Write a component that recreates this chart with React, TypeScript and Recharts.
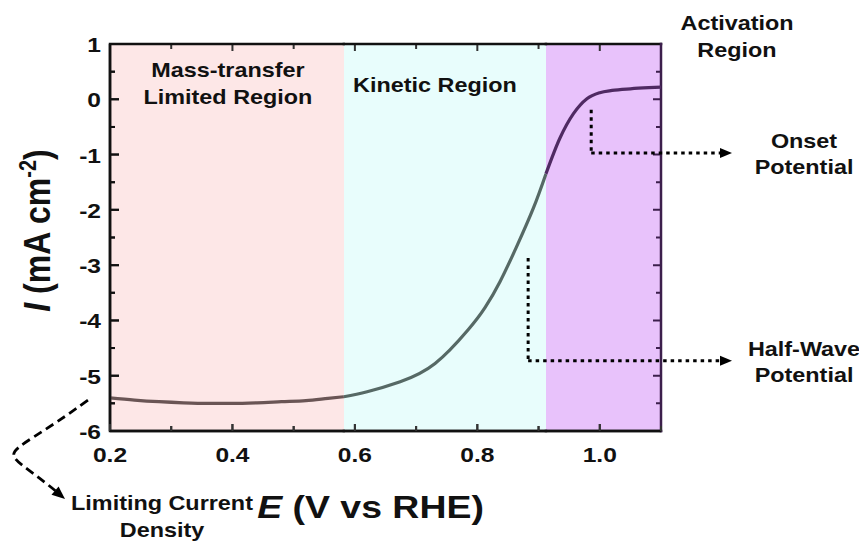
import React from 'react'
import { ComposedChart, Line, XAxis, YAxis, CartesianGrid, ReferenceArea, ReferenceLine } from 'recharts'

// LSV curve: E (V vs RHE) and current density (mA cm^-2)
const potential = [
  0.2, 0.24, 0.28, 0.32, 0.36, 0.4, 0.44, 0.48, 0.52, 0.556, 0.582, 0.62, 0.674, 0.731, 0.785, 0.8125,
  0.837, 0.864, 0.8915, 0.912, 0.935, 0.957, 0.979, 1.0, 1.02, 1.05, 1.08, 1.1,
]
const current = [
  -5.4, -5.44, -5.47, -5.49, -5.5, -5.5, -5.49, -5.47, -5.45, -5.41, -5.38, -5.29, -5.11, -4.78, -4.17,
  -3.77, -3.3, -2.67, -1.97, -1.35, -0.7, -0.26, 0.01, 0.12, 0.16, 0.19, 0.21, 0.22,
]

// region borders on the E axis and their fills
const regionEdges = [0.2, 0.582, 0.912, 1.1]
const regionFills = ['#fde7e7', '#e8fdfc', '#e8c2fb']
const xDomain = [0.2, 1.1]
const yDomain = [-6, 1]

const xTicks = [0.2, 0.3, 0.4, 0.5, 0.6, 0.7, 0.8, 0.9, 1.0, 1.1]
const xLabels = [0.2, 0.4, 0.6, 0.8, 1.0]
const yTicks = [-6, -5.5, -5, -4.5, -4, -3.5, -3, -2.5, -2, -1.5, -1, -0.5, 0, 0.5, 1]
const yLabels = [-6, -5, -4, -3, -2, -1, 0, 1]

// annotation anchors (E, I)
const onsetPoint = { x: 0.986, top: -0.19, y: -0.97 }
const halfWavePoint = { x: 0.883, top: -2.87, y: -4.73 }
const arrowTipE = 1.216
const limitingStart = { x: 0.164, y: -5.44 }
const limitingEnd = { x: 0.1265, y: -7.23 }

const rows = potential.map((E, i) => ({
  E,
  mass: E <= regionEdges[1] ? current[i] : null,
  kinetic: E >= regionEdges[1] && E <= regionEdges[2] ? current[i] : null,
  activation: E >= regionEdges[2] ? current[i] : null,
}))

const FONT = "'Liberation Sans', Arial, sans-serif"
const SX = 1.17
const INK = '#111'
const RIGHT_INK = '#3c1f4c'

function StretchText({ x, y, size = 20, anchor = 'middle', children }: any) {
  return (
    <text
      transform={`translate(${x},${y}) scale(${SX},1)`}
      textAnchor={anchor}
      fontSize={size}
      fontWeight="bold"
      fontFamily={FONT}
      fill={INK}
    >
      {children}
    </text>
  )
}

// ticks point inward; tickSize/tickMargin 0 puts x,y right on the axis line
function BottomTick(props: any) {
  const { x, y, payload } = props
  const major = xLabels.includes(payload.value)
  return (
    <g>
      <line x1={x} y1={y} x2={x} y2={y - (major ? 7 : 5)} stroke="#333" strokeWidth={2} />
      {major && (
        <StretchText x={x} y={y + 31} size={21}>
          {payload.value.toFixed(1)}
        </StretchText>
      )}
    </g>
  )
}

function TopTick(props: any) {
  const { x, y, payload } = props
  const major = xLabels.includes(payload.value)
  return <line x1={x} y1={y} x2={x} y2={y + (major ? 7 : 5)} stroke="#333" strokeWidth={2} />
}

function LeftTick(props: any) {
  const { x, y, payload } = props
  const major = yLabels.includes(payload.value)
  return (
    <g>
      <line x1={x} y1={y} x2={x + (major ? 9 : 5)} y2={y} stroke={INK} strokeWidth={2} />
      {major && (
        <StretchText x={x - 9} y={y + 8} size={21} anchor="end">
          {String(payload.value)}
        </StretchText>
      )}
    </g>
  )
}

function RightTick(props: any) {
  const { x, y, payload } = props
  const major = yLabels.includes(payload.value)
  return <line x1={x} y1={y} x2={x - (major ? 8 : 5)} y2={y} stroke={RIGHT_INK} strokeWidth={2} />
}

// frame edges and inward ticks over one region's span (region box comes from the scales)
function FramePart({ vb, e0, e1, left, right }: any) {
  const top = vb.y
  const bottom = vb.y + vb.height
  const xl = vb.x
  const xr = vb.x + vb.width
  const px = (v: number) => xl + ((v - e0) / (e1 - e0)) * vb.width
  const py = (v: number) => top + ((yDomain[1] - v) / (yDomain[1] - yDomain[0])) * vb.height
  let xt = ''
  xTicks
    .filter((v) => v >= e0 && (v < e1 || right))
    .forEach((v) => {
      const len = xLabels.includes(v) ? 7 : 5
      const x = px(v)
      xt += `M${x},${bottom}V${bottom - len}M${x},${top}V${top + len}`
    })
  let lt = ''
  let rt = ''
  yTicks.forEach((v) => {
    const y = py(v)
    const major = yLabels.includes(v)
    if (left) lt += `M${xl},${y}H${xl + (major ? 9 : 5)}`
    if (right) rt += `M${xr},${y}H${xr - (major ? 8 : 5)}`
  })
  const edges = `M${xl},${top}H${xr}M${xl},${bottom}H${xr}` + (left ? `M${xl},${top}V${bottom}` : '')
  return (
    <g>
      {xt && <path d={xt} stroke="#333" strokeWidth={2} fill="none" />}
      {lt && <path d={lt} stroke={INK} strokeWidth={2} fill="none" />}
      {rt && <path d={rt} stroke={RIGHT_INK} strokeWidth={2} fill="none" />}
      <path d={edges} stroke={INK} strokeWidth={2.5} strokeLinecap="square" fill="none" />
      {right && <path d={`M${xr},${top}V${bottom}`} stroke={RIGHT_INK} strokeWidth={2.5} strokeLinecap="square" fill="none" />}
    </g>
  )
}

const regionLabel = (lines: string[], dx: number, dy: number, e0: number, e1: number, left = false) => (p: any) => {
  const vb = p.viewBox
  const cx = vb.x + vb.width / 2 + dx
  return (
    <g>
      <FramePart vb={vb} e0={e0} e1={e1} left={left} right={false} />
      {lines.map((t, i) => (
        <StretchText key={t} x={cx} y={vb.y + dy + i * 27}>
          {t}
        </StretchText>
      ))}
    </g>
  )
}

const activationLabel = (p: any) => {
  const vb = p.viewBox
  const cx = vb.x + vb.width + 76
  return (
    <g>
      <FramePart vb={vb} e0={regionEdges[2]} e1={regionEdges[3]} left={false} right />
      <StretchText x={cx} y={vb.y - 14}>Activation</StretchText>
      <StretchText x={cx} y={vb.y + 13}>Region</StretchText>
    </g>
  )
}

const dotted = { stroke: '#000', strokeWidth: 3, strokeDasharray: '3.5 4' }

function DottedShape(props: any) {
  const { x1, y1, x2, y2 } = props
  return <line x1={x1} y1={y1} x2={x2} y2={y2} {...dotted} />
}

const arrowShape = (lines: string[]) => (props: any) => {
  const { x1, y1, x2, y2 } = props
  return (
    <g>
      <line x1={x1} y1={y1} x2={x2 - 10} y2={y2} {...dotted} />
      <polygon points={`${x2},${y2} ${x2 - 12},${y2 - 5} ${x2 - 12},${y2 + 5}`} fill="#000" />
      {lines.map((t, i) => (
        <StretchText key={t} x={x2 + 72} y={y2 - 5 + i * 26}>
          {t}
        </StretchText>
      ))}
    </g>
  )
}

function CurlyShape(props: any) {
  const { x1, y1, x2, y2 } = props
  const d = `M${x1},${y1} C${x1 - 95},${y1 + 70} ${x2 - 70},${y2 - 60} ${x2 - 4},${y2 - 3.5}`
  return (
    <g>
      <path d={d} fill="none" stroke="#000" strokeWidth={2.8} strokeDasharray="9 5" />
      <polygon points="0,0 -13,-5.5 -13,5.5" transform={`translate(${x2},${y2}) rotate(40)`} fill="#000" />
      <StretchText x={x2 + 97} y={y2 + 11}>Limiting Current</StretchText>
      <StretchText x={x2 + 97} y={y2 + 38}>Density</StretchText>
    </g>
  )
}

const xTitle = (p: any) => {
  const vb = p.viewBox
  return (
    <text
      transform={`translate(${vb.x + vb.width / 2 - 15},${vb.y + 87}) scale(${SX},1)`}
      textAnchor="middle"
      fontSize={32}
      fontWeight="bold"
      fontFamily={FONT}
      fill={INK}
    >
      <tspan fontStyle="italic">E</tspan> (V vs RHE)
    </text>
  )
}

const yTitle = (p: any) => {
  const vb = p.viewBox
  return (
    <text
      transform={`translate(50,${vb.y + vb.height / 2 - 7}) rotate(-90) scale(1,${SX})`}
      textAnchor="middle"
      fontSize={32}
      fontWeight="bold"
      fontFamily={FONT}
      fill={INK}
    >
      <tspan fontStyle="italic">I</tspan> (mA cm
      <tspan dy={-12} fontSize={20}>-2</tspan>
      <tspan dy={12}>)</tspan>
    </text>
  )
}

// region backgrounds as grid stripes, placed through the x scale
const regionStripes = ({ xAxis, offset }: any) => {
  const s = xAxis && xAxis.scale
  let toPx: ((v: number) => number) | null = null
  if (typeof s === 'function') toPx = (v) => s(v)
  else if (s && typeof s.map === 'function') toPx = (v) => s.map(v)
  else if (s && typeof s.apply === 'function') toPx = (v) => s.apply(v)
  const edges = regionEdges.slice(0, 3)
  let px = toPx ? edges.map((e) => Number(toPx!(e))) : []
  if (px.length !== edges.length || px.some((p) => !Number.isFinite(p))) {
    // same linear mapping the number axis uses
    px = edges.map((e) => offset.left + ((e - xDomain[0]) / (xDomain[1] - xDomain[0])) * offset.width)
  }
  return px
}

export default function App() {
  return (
    <div style={{ position: 'absolute', left: 0, top: 0, width: 859, height: 541, background: '#fff' }}>
      <ComposedChart width={859} height={541} data={rows} margin={{ top: 44, right: 198, bottom: 0, left: 0 }}>
        <CartesianGrid
          horizontal={false}
          stroke="none"
          verticalFill={regionFills}
          fillOpacity={1}
          verticalCoordinatesGenerator={regionStripes}
        />
        <XAxis
          dataKey="E"
          type="number"
          domain={xDomain}
          ticks={xTicks}
          interval={0}
          height={110}
          tickSize={0}
          tickMargin={0}
          tickLine={false}
          tick={<BottomTick />}
          axisLine={{ stroke: INK, strokeWidth: 2.5 }}
          allowDataOverflow
          label={xTitle}
        />
        <XAxis
          xAxisId="top"
          orientation="top"
          type="number"
          domain={xDomain}
          ticks={xTicks}
          interval={0}
          height={0}
          tickSize={0}
          tickMargin={0}
          tickLine={false}
          tick={<TopTick />}
          axisLine={{ stroke: INK, strokeWidth: 2.5 }}
        />
        <YAxis
          type="number"
          domain={yDomain}
          ticks={yTicks}
          interval={0}
          width={110}
          tickSize={0}
          tickMargin={0}
          tickLine={false}
          tick={<LeftTick />}
          axisLine={{ stroke: INK, strokeWidth: 2.5 }}
          allowDataOverflow
          label={yTitle}
        />
        <YAxis
          yAxisId="right"
          orientation="right"
          type="number"
          domain={yDomain}
          ticks={yTicks}
          interval={0}
          width={0}
          tickSize={0}
          tickMargin={0}
          tickLine={false}
          tick={<RightTick />}
          axisLine={{ stroke: RIGHT_INK, strokeWidth: 2.5 }}
        />
        <ReferenceArea
          x1={regionEdges[0]}
          x2={regionEdges[1]}
          fill="none"
          fillOpacity={0}
          stroke="none"
          label={regionLabel(['Mass-transfer', 'Limited Region'], 1, 33, regionEdges[0], regionEdges[1], true)}
        />
        <ReferenceArea
          x1={regionEdges[1]}
          x2={regionEdges[2]}
          fill="none"
          fillOpacity={0}
          stroke="none"
          label={regionLabel(['Kinetic Region'], -10, 48, regionEdges[1], regionEdges[2])}
        />
        <ReferenceArea
          x1={regionEdges[2]}
          x2={regionEdges[3]}
          fill="none"
          fillOpacity={0}
          stroke="none"
          label={activationLabel}
        />
        <Line dataKey="mass" type="monotone" stroke="#6a5555" strokeWidth={3.2} dot={false} isAnimationActive={false} />
        <Line dataKey="kinetic" type="natural" stroke="#566965" strokeWidth={3.2} dot={false} isAnimationActive={false} />
        <Line dataKey="activation" type="monotone" stroke="#4f2a62" strokeWidth={3.2} dot={false} isAnimationActive={false} />
        <ReferenceLine
          segment={[{ x: onsetPoint.x, y: onsetPoint.top }, { x: onsetPoint.x, y: onsetPoint.y }]}
          ifOverflow="visible"
          shape={DottedShape}
        />
        <ReferenceLine
          segment={[{ x: onsetPoint.x, y: onsetPoint.y }, { x: arrowTipE, y: onsetPoint.y }]}
          ifOverflow="visible"
          shape={arrowShape(['Onset', 'Potential'])}
        />
        <ReferenceLine
          segment={[{ x: halfWavePoint.x, y: halfWavePoint.top }, { x: halfWavePoint.x, y: halfWavePoint.y }]}
          ifOverflow="visible"
          shape={DottedShape}
        />
        <ReferenceLine
          segment={[{ x: halfWavePoint.x, y: halfWavePoint.y }, { x: arrowTipE, y: halfWavePoint.y }]}
          ifOverflow="visible"
          shape={arrowShape(['Half-Wave', 'Potential'])}
        />
        <ReferenceLine segment={[limitingStart, limitingEnd]} ifOverflow="visible" shape={CurlyShape} />
      </ComposedChart>
    </div>
  )
}
